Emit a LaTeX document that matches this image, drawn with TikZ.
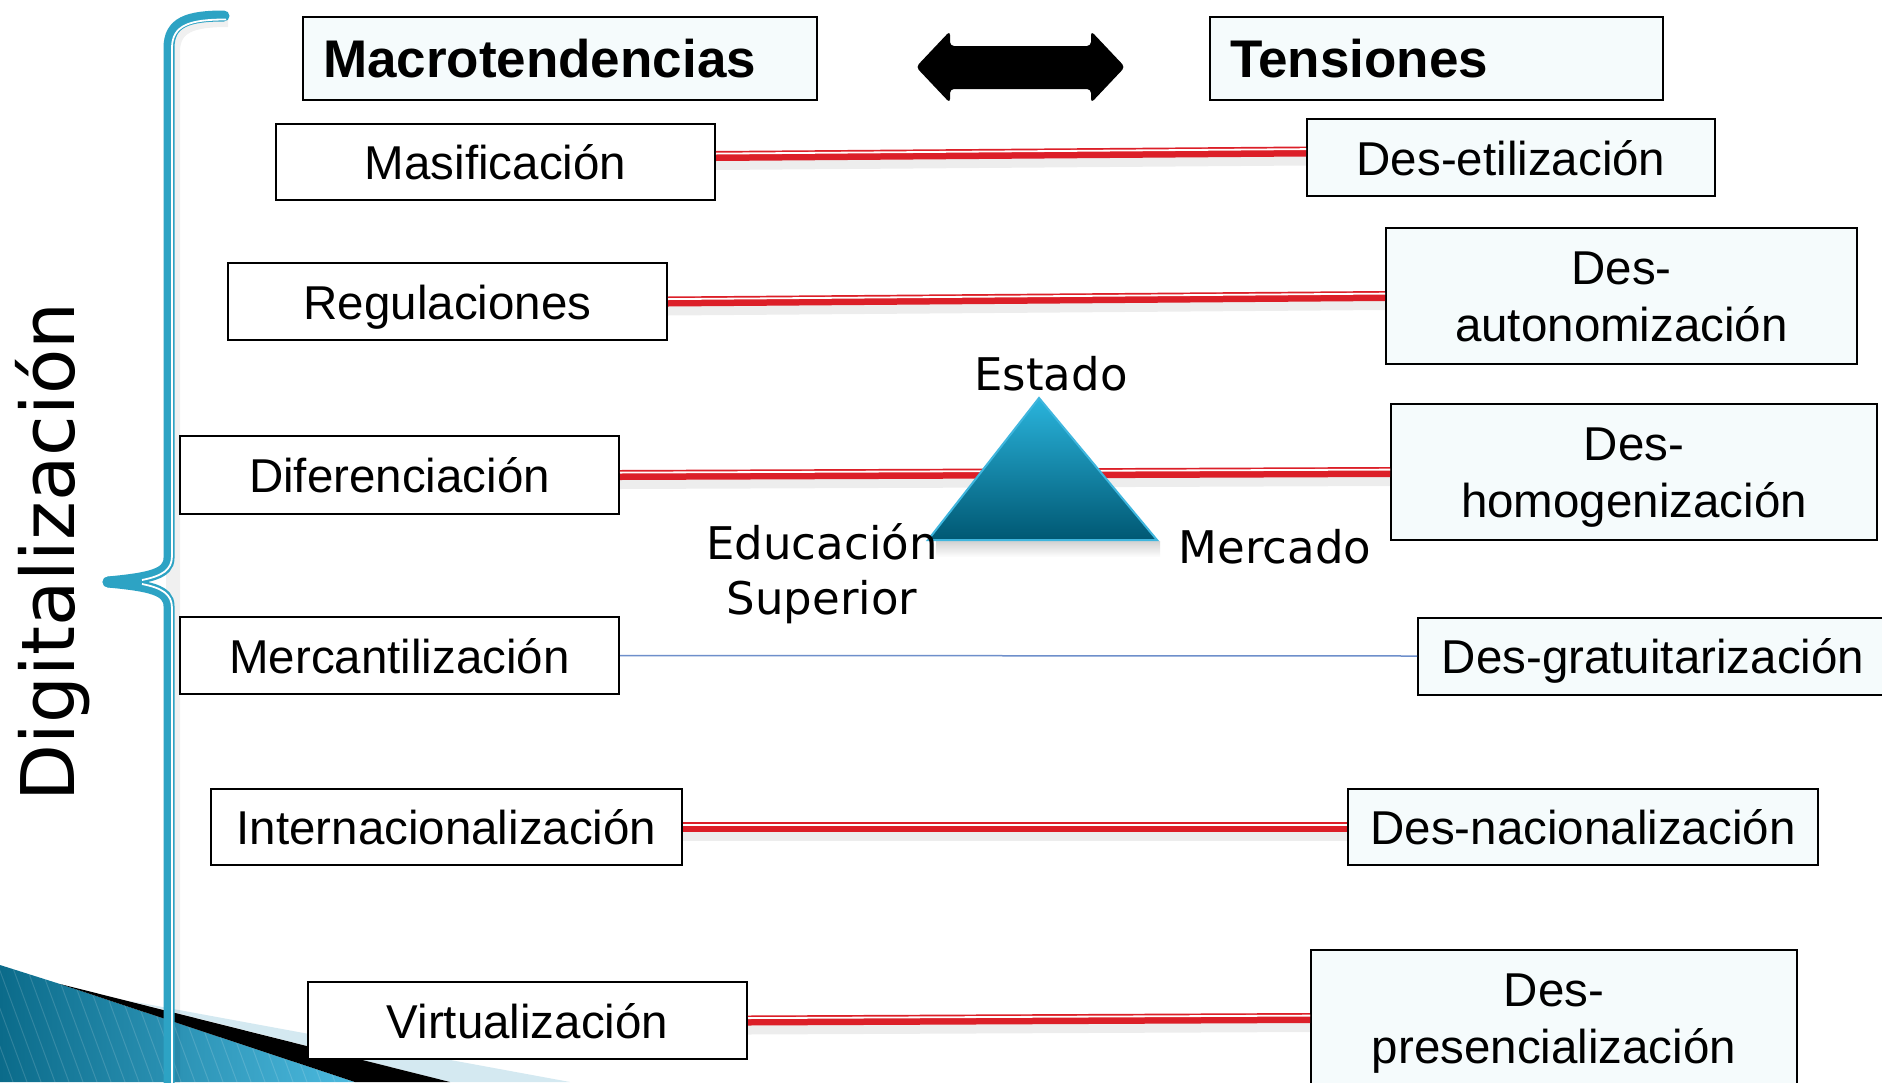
\documentclass[tikz,border=0pt]{standalone}
\usepackage{fontspec}
\setmainfont{Liberation Sans}
\newfontfamily\lucida{DejaVu Sans}
\usetikzlibrary{calc}
\definecolor{boxfill}{HTML}{F5FBFC}
\definecolor{redln}{HTML}{DC1F28}
\definecolor{bracebl}{HTML}{2DA3C4}
\definecolor{thinbl}{HTML}{6E8FCB}
\definecolor{tritop}{HTML}{2AB4DC}
\definecolor{tribot}{HTML}{005873}
\definecolor{triedge}{HTML}{3FB6DE}
\definecolor{lightbl}{HTML}{D4E9F1}
\definecolor{decodark}{HTML}{0B6B8A}
\definecolor{decolight}{HTML}{4DBBE0}
\newcommand\redlink[2]{%
  \draw[black, opacity=0.07, line width=14pt, transform canvas={yshift=-7pt}] (#1) -- (#2);
  \draw[redln, line width=10pt] (#1) -- (#2);
  \draw[white, line width=1.8pt, transform canvas={yshift=2.4pt}] (#1) -- (#2);}
\newcommand\twolines[2]{\rule{0pt}{46pt}#1\\#2\rule[-12pt]{0pt}{12pt}}
\begin{document}
\begin{tikzpicture}[x=1pt,y=-1pt,
  lbox/.style={draw=black, line width=2pt, fill=white, inner sep=0pt,
    font=\fontsize{47.5pt}{57pt}\selectfont, align=center},
  sbox/.style={lbox, text height=35pt, text depth=0pt},
  rbox/.style={lbox, fill=boxfill},
  srbox/.style={sbox, fill=boxfill},
  headbox/.style={draw=black, line width=2pt, fill=boxfill, inner xsep=20pt,
    inner ysep=0pt, anchor=west, minimum height=83pt, text height=38pt, text depth=0pt,
    font=\bfseries\fontsize{53pt}{60pt}\selectfont},
  lbl/.style={font=\lucida\fontsize{45pt}{55pt}\selectfont, inner sep=0pt, align=center},
  bracestyle/.style={bracebl, line width=11pt, line cap=round},
  bracewhite/.style={white, line width=1.8pt}
]
\useasboundingbox (0,0) rectangle (1882,1082);
\fill[white] (0,0) rectangle (1882,1082);

% bottom-left decoration
\begin{scope}
\clip (0,965) -- (60,984) -- (355,1082) -- (0,1082) -- cycle;
\shade[left color=decodark, right color=decolight] (0,960) rectangle (360,1082);
\foreach \i in {-130,-116,...,400} \draw[white, opacity=0.14, line width=1pt] (\i,960) -- (\i+45,1082);
\end{scope}
\fill[lightbl] (130,1001) -- (570,1082) -- (450,1082) -- cycle;
\fill[black] (60,984) -- (450,1082) -- (355,1082) -- cycle;

% brace
\draw[black, opacity=0.06, line width=14pt, transform canvas={xshift=4pt, yshift=-4pt}]
  (224,16) .. controls (188,16) and (169,22) .. (169,48) -- (169,1095);
\draw[bracestyle] (224,16) .. controls (188,16) and (169,22) .. (169,48) -- (169,558)
  .. controls (169,574) and (150,578) .. (108,582);
\draw[bracestyle] (108,582) .. controls (150,586) and (169,590) .. (169,606) -- (169,1095);
\draw[bracewhite] (226,19.5) .. controls (190,19.5) and (172,25) .. (172,48) -- (172,556)
  .. controls (172,570) and (162,576) .. (142,580);
\draw[bracewhite] (142,584) .. controls (162,588) and (172,594) .. (172,608) -- (172,1095);

% vertical label
\node[rotate=90, anchor=base, inner sep=0pt, font=\lucida\fontsize{74pt}{80pt}\selectfont]
  (digit) at (74,552) {Digitalización};

% headings
\node[headbox, text width=474pt] (macro) at (302,58.5) {Macrotendencias};
\node[headbox, text width=413pt] (tens) at (1209,58.5) {Tensiones};
\fill[black, rounded corners=4pt] (916,67) -- (950,31) -- (950,46) -- (1091,46) -- (1091,31)
  -- (1125,67) -- (1091,103) -- (1091,89) -- (950,89) -- (950,103) -- cycle;

% left boxes
\node[sbox, minimum width=439pt, minimum height=76pt] (masif) at (495.5,162) {Masificación};
\node[sbox, minimum width=439pt, minimum height=77pt] (regul) at (447.5,301.5) {Regulaciones};
\node[sbox, minimum width=439pt, minimum height=78pt] (difer) at (399.5,475) {Diferenciación};
\node[sbox, minimum width=439pt, minimum height=77pt] (merc) at (399.5,655.5) {Mercantilización};
\node[sbox, minimum width=471pt, minimum height=76pt] (intern) at (446.5,827) {Internacionalización};
\node[sbox, minimum width=439pt, minimum height=77pt] (virt) at (527.5,1020.5) {Virtualización};

% right boxes
\node[srbox, minimum width=408pt, minimum height=77pt] (deset) at (1511,157.5) {Des-etilización};
\node[rbox, minimum width=471pt, minimum height=136pt] (desaut) at (1621.5,296) {\twolines{Des-}{autonomización}};
\node[rbox, minimum width=486pt, minimum height=136pt] (deshom) at (1634,472) {\twolines{Des-}{homogenización}};
\node[srbox, minimum width=470pt, minimum height=77pt] (desgrat) at (1653,656) {Des-gratuitarización};
\node[srbox, minimum width=470pt, minimum height=76pt] (desnac) at (1583,827) {Des-nacionalización};
\node[rbox, minimum width=486pt, minimum height=136pt] (despres) at (1554,1018) {\twolines{Des-}{presencialización}};

% connectors
\redlink{[yshift=6pt]masif.east}{[yshift=6pt]deset.west}
\redlink{regul.east}{desaut.west}
\redlink{difer.east}{deshom.west}
\draw[thinbl, line width=1.5pt] (merc.east) -- (desgrat.west);
\redlink{intern.east}{desnac.west}
\redlink{virt.east}{despres.west}

% triangle
\shade[top color=black!35, bottom color=white, opacity=0.5] (936,541) rectangle (1160,557);
\shade[top color=tritop, bottom color=tribot] (1039,398) -- (1157,540) -- (928,540) -- cycle;
\draw[triedge, line width=2pt] (1039,398) -- (1157,540) -- (928,540) -- cycle;

% labels
\node[lbl, anchor=base] (estado) at (1051,390) {Estado};
\node[lbl, anchor=base] (mercado) at (1275,563) {Mercado};
\node[lbl, anchor=center] (edsup) at (822,574) {Educación\\Superior};
\end{tikzpicture}
\end{document}
